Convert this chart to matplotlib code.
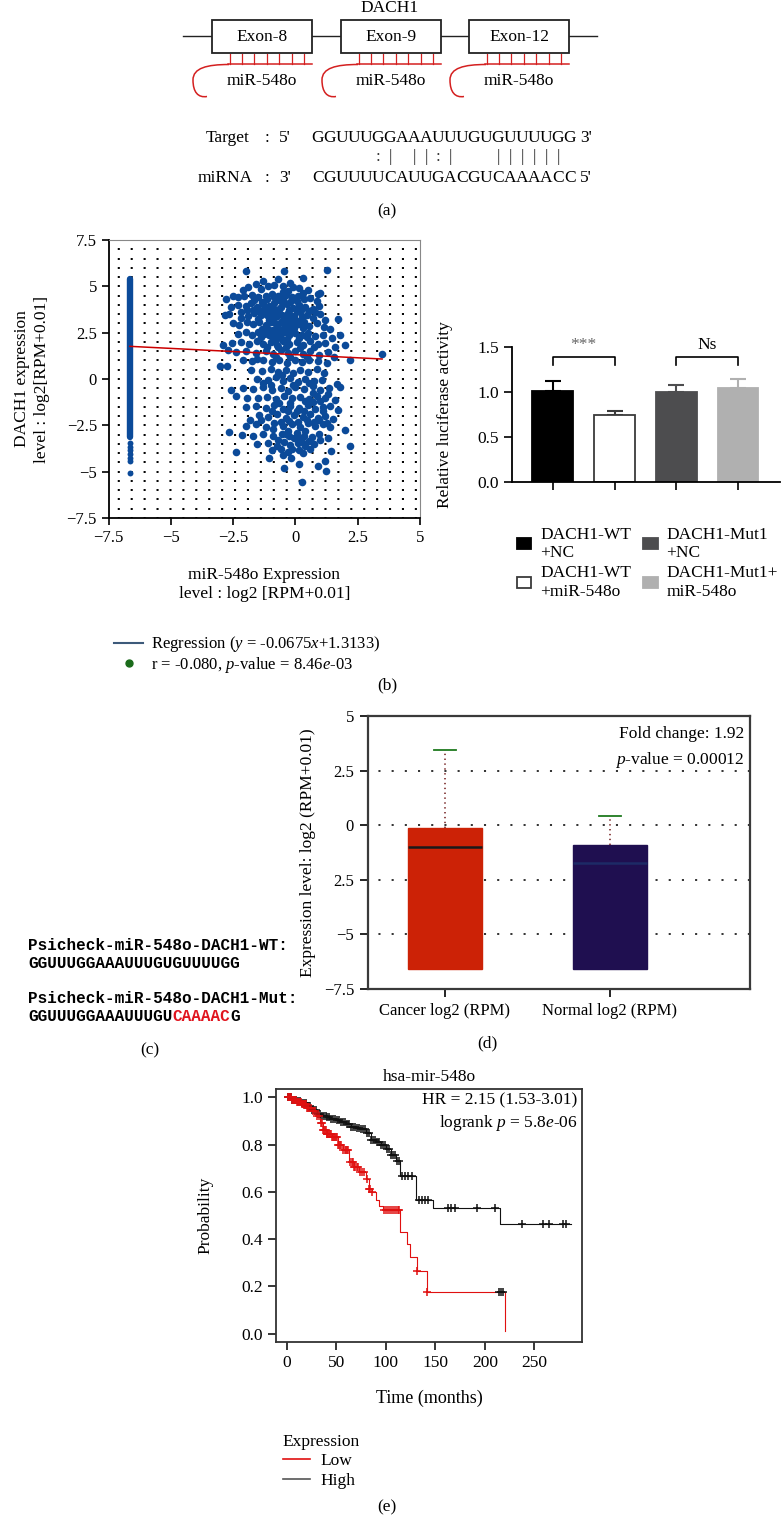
import numpy as np
import matplotlib.pyplot as plt
from matplotlib.patches import Rectangle, PathPatch
from matplotlib.path import Path
from matplotlib.lines import Line2D
from matplotlib.ticker import MultipleLocator

plt.rcParams['font.family'] = ['Liberation Serif', 'DejaVu Serif']
plt.rcParams['mathtext.fontset'] = 'custom'
plt.rcParams['mathtext.rm'] = 'Liberation Serif'
plt.rcParams['mathtext.it'] = 'Liberation Serif:italic'
plt.rcParams['lines.scale_dashes'] = False
plt.rcParams['font.size'] = 11.5
plt.rcParams['axes.unicode_minus'] = True

# ---------------- data ----------------
# (a) binding sites
exon_names = ['Exon-8', 'Exon-9', 'Exon-12']
site_label = 'miR-548o'
target_seq = 'GGUUUGGAAAUUUGUGUUUUGG'
pair_marks = '     :| ||:|   |||||| '
mirna_seq = 'CGUUUUCAUUGACGUCAAAACC'

# (b) correlation scatter
column_x = -6.65
column_top, column_bottom = 5.4, -3.15
column_extra = [-3.45, -3.65, -3.85, -4.05, -4.25, -4.45, -5.05]
cloud_xy = [
    (-2.0, 5.85), (-0.45, 5.85), (1.25, 5.9), (0.3, 5.45), (-0.7, 5.4), (-1.3, 5.3), (-0.2, 5.2),
    (-1.6, 5.1), (-1.1, 5.0), (-0.85, 5.05), (-0.5, 5.0), (-0.1, 4.95), (0.15, 4.9), (-2.1, 4.8),
    (-1.9, 4.95), (0.5, 4.8), (-1.4, 4.85), (0.9, 4.6), (1.0, 4.65),
    (-2.5, 4.5), (-2.3, 4.4), (-2.05, 4.5), (-1.75, 4.55), (-1.5, 4.4), (-1.2, 4.5), (-0.95, 4.6),
    (-0.7, 4.5), (-0.4, 4.55), (-0.15, 4.4), (0.1, 4.5), (0.35, 4.3), (0.6, 4.35), (0.85, 4.2), (-2.8, 4.3),
    (-2.6, 3.9), (-2.3, 4.0), (-2.0, 3.95), (-1.8, 4.1), (-1.55, 3.9), (-1.3, 4.05), (-1.05, 3.95),
    (-0.85, 4.1), (-0.6, 3.9), (-0.35, 4.05), (-0.1, 3.85), (0.15, 4.0), (0.4, 3.9), (0.7, 3.8),
    (0.95, 3.95), (-0.75, 4.25), (-0.5, 4.3), (-1.15, 4.3),
    (-2.85, 3.45), (-2.65, 3.5), (-2.2, 3.6), (-1.9, 3.4), (-1.65, 3.55), (-1.4, 3.45), (-1.2, 3.6),
    (-0.95, 3.5), (-0.75, 3.65), (-0.55, 3.45), (-0.3, 3.55), (-0.05, 3.4), (0.2, 3.6), (0.45, 3.45),
    (0.7, 3.3), (1.0, 3.5), (1.7, 3.25), (-0.85, 3.3), (-0.4, 3.25), (-1.05, 3.2),
    (-2.5, 3.0), (-2.25, 2.9), (-1.95, 3.05), (-1.7, 2.95), (-1.45, 3.1), (-1.2, 2.9), (-1.0, 3.05),
    (-0.8, 2.95), (-0.6, 3.1), (-0.35, 2.9), (-0.15, 3.05), (0.1, 2.95), (0.35, 3.1), (0.55, 2.85),
    (0.85, 3.0), (1.15, 2.8), (-0.7, 2.75), (-0.5, 2.7), (-0.9, 2.65),
    (-2.3, 2.45), (-2.0, 2.55), (-1.75, 2.4), (-1.5, 2.55), (-1.25, 2.45), (-1.05, 2.35), (-0.85, 2.5),
    (-0.65, 2.4), (-0.45, 2.55), (-0.25, 2.35), (0.0, 2.5), (0.25, 2.4), (0.5, 2.5), (0.8, 2.3),
    (1.1, 2.4), (1.45, 2.2), (1.8, 2.35),
    (-2.9, 1.85), (-2.55, 1.95), (-2.2, 2.0), (-1.85, 1.9), (-1.55, 2.05), (-1.3, 1.9), (-1.0, 2.0),
    (-0.75, 1.85), (-0.5, 2.05), (-0.25, 1.9), (0.05, 2.0), (0.3, 1.85), (0.6, 2.05), (0.9, 1.9),
    (1.2, 1.95), (1.6, 1.75), (2.0, 1.85),
    (-2.7, 1.55), (-2.4, 1.45), (-2.0, 1.5), (-1.6, 1.4), (-1.2, 1.5), (-0.9, 1.35), (-0.6, 1.55),
    (-0.3, 1.4), (0.0, 1.5), (0.3, 1.35), (0.6, 1.5), (0.95, 1.3), (1.3, 1.45), (1.55, 1.2), (3.48, 1.36),
    (-2.1, 1.0), (-1.75, 0.95), (-1.3, 1.05), (-0.95, 0.9), (-0.65, 1.0), (-0.35, 0.85), (0.0, 1.05),
    (0.25, 0.9), (0.55, 1.0), (0.9, 0.95), (1.25, 0.85), (2.18, 1.0), (-1.55, 1.1),
    (-3.05, 0.72), (-2.75, 0.68), (-1.8, 0.5), (-1.35, 0.45), (-1.0, 0.55), (-0.7, 0.4), (-0.4, 0.5),
    (-0.1, 0.35), (0.2, 0.5), (0.5, 0.4), (0.85, 0.55), (1.15, 0.3), (-0.55, 0.2),
    (-1.55, 0.0), (-1.1, -0.05), (-0.8, 0.1), (-0.5, -0.1), (-0.2, 0.05), (0.1, -0.15), (0.4, 0.0),
    (0.75, -0.1), (1.05, -0.05), (1.65, -0.27), (-1.3, -0.2),
    (-2.6, -0.6), (-2.1, -0.5), (-1.7, -0.55), (-1.3, -0.45), (-0.95, -0.6), (-0.6, -0.5), (-0.3, -0.65),
    (0.0, -0.45), (0.35, -0.55), (0.7, -0.4), (1.0, -0.6), (1.35, -0.5), (1.8, -0.45),
    (-2.37, -0.9), (-1.95, -1.05), (-1.5, -1.0), (-1.15, -0.95), (-0.8, -1.1), (-0.45, -0.9),
    (-0.15, -1.05), (0.2, -0.95), (0.55, -1.1), (0.85, -0.9), (1.2, -1.0), (1.6, -1.15),
    (-2.0, -1.5), (-1.6, -1.45), (-1.2, -1.55), (-0.85, -1.4), (-0.5, -1.6), (-0.2, -1.45), (0.15, -1.55),
    (0.5, -1.4), (0.8, -1.6), (1.1, -1.5), (1.4, -1.45), (1.7, -1.65),
    (-1.81, -2.2), (-1.45, -1.95), (-1.1, -2.05), (-0.75, -1.9), (-0.4, -2.1), (-0.05, -1.95),
    (0.3, -2.05), (0.6, -1.9), (0.9, -2.1), (1.2, -2.0), (1.5, -2.15),
    (-2.0, -2.55), (-1.6, -2.45), (-1.2, -2.6), (-0.85, -2.4), (-0.5, -2.55), (-0.15, -2.45), (0.2, -2.6),
    (0.5, -2.4), (0.8, -2.55), (1.1, -2.45), (1.4, -2.6), (1.98, -2.73),
    (-2.66, -2.85), (-2.13, -3.0), (-1.7, -3.05), (-1.3, -2.95), (-0.9, -3.1), (-0.55, -2.95),
    (-0.25, -3.1), (0.05, -2.9), (0.35, -3.05), (0.65, -3.15), (0.95, -2.95), (1.3, -3.2),
    (-1.55, -3.5), (-1.1, -3.45), (-0.75, -3.6), (-0.45, -3.4), (-0.2, -3.55), (0.1, -3.45), (0.4, -3.6),
    (0.75, -3.5), (2.18, -3.63), (-0.6, -3.75),
    (-2.37, -3.93), (-1.06, -4.25), (-0.5, -4.1), (-0.16, -4.25), (0.3, -4.0), (1.42, -3.9), (1.18, -4.43),
    (-0.3, -3.95), (-0.46, -4.8), (0.13, -4.56), (0.91, -4.7), (1.22, -4.97), (0.25, -5.57),
    (-1.0, 3.75), (-0.65, 3.8), (-0.25, 3.7), (0.05, 3.65), (-0.85, 4.45), (-0.5, 4.7), (-1.25, 3.75),
    (-0.45, 3.0), (-0.95, 2.3), (-0.2, 2.7), (-0.6, 2.2), (-1.1, 2.7), (0.25, 3.35), (-1.5, 3.25),
    (-0.3, 4.75), (-0.05, 4.3), (0.3, 4.65), (-1.65, 4.25), (-0.75, 3.4), (-0.15, 3.25),
    (-0.3, -2.8), (0.4, -2.8), (-0.7, -3.3), (0.15, -3.25), (0.6, -3.8), (-0.9, -2.7), (0.95, -2.2),
    (1.1, -1.7), (0.4, -1.2), (-0.2, -1.3), (1.3, -0.8), (0.7, -0.75),
    (-1.35, 4.15), (-0.9, 3.85), (-0.55, 4.15), (-0.2, 4.15), (0.05, 4.2), (0.25, 3.8), (0.55, 3.65),
    (-1.45, 3.7), (-1.15, 3.45), (-0.65, 3.55), (-0.2, 3.45), (0.05, 3.15), (0.3, 2.75), (-1.35, 2.7),
    (-0.75, 2.6), (-0.35, 2.65), (-0.05, 2.75), (0.45, 2.25), (-1.4, 2.25), (-0.8, 2.15), (-0.35, 2.15),
    (0.15, 2.2), (-1.15, 1.7), (-0.7, 1.7), (-0.4, 1.75), (0.2, 1.65), (0.75, 1.7), (-0.8, 1.2),
    (-0.2, 1.2), (0.45, 1.2), (-1.7, 3.75), (-1.95, 3.7), (-2.2, 3.3), (0.8, 3.6), (1.2, 3.2), (1.4, 2.7),
    (-0.65, -1.3), (-0.3, -1.75), (0.05, -1.75), (0.35, -1.75), (0.7, -1.25), (-0.95, -1.75),
    (-0.6, -2.3), (-0.25, -2.25), (0.1, -2.3), (0.45, -2.2), (0.75, -2.3), (-0.4, -2.95), (-0.05, -3.2),
    (0.25, -3.4), (0.55, -3.35), (-0.15, -3.75), (0.15, -3.85), (-0.95, -3.85), (1.0, -3.3), (1.0, -1.2),
    (-1.0, -0.3), (-0.1, -0.3), (0.55, -0.2), (1.25, -2.4), (-1.4, -2.2),
]
reg_slope, reg_intercept = -0.0675, 1.3133
reg_x_range = [-6.65, 3.48]

# (b) luciferase assay
bar_labels = ['DACH1-WT\n+NC', 'DACH1-WT\n+miR-548o', 'DACH1-Mut1\n+NC', 'DACH1-Mut1+\nmiR-548o']
bar_means = [1.01, 0.74, 1.00, 1.04]
bar_errs = [0.11, 0.05, 0.08, 0.11]
bar_face = ['#000000', '#ffffff', '#4d4d4f', '#b0b0b0']
bar_edge = ['#000000', '#3a3a3a', '#4d4d4f', '#b0b0b0']
sig_pairs = [(0, 1), (2, 3)]
sig_text = ['***', 'Ns']
sig_y = [1.39, 1.39]

# (c) reporter sequences
wt_name = 'Psicheck-miR-548o-DACH1-WT:'
wt_seq = 'GGUUUGGAAAUUUGUGUUUUGG'
mut_name = 'Psicheck-miR-548o-DACH1-Mut:'
mut_seq_parts = ['GGUUUGGAAAUUUGU', 'CAAAAC', 'G']

# (d) expression boxes
box_labels = ['Cancer log2 (RPM)', 'Normal log2 (RPM)']
box_q1 = [-6.58, -6.58]
box_med = [-1.02, -1.75]
box_q3 = [-0.15, -0.91]
box_whislo = [-6.58, -6.58]
box_whishi = [3.43, 0.43]
box_colors = ['#cc2206', '#1f0f50']
box_median_colors = ['#1a1a1a', '#1d2a66']
box_yticks = [-7.5, -5, -2.5, 0, 2.5, 5]
box_yticklabels = ['\u22127.5', '\u22125', '2.5', '0', '2.5', '5']

# (e) Kaplan-Meier
low_t = [0, 5, 10, 15, 20, 25, 30, 33, 36, 40, 46, 52, 57, 63, 68, 73, 80, 83, 86, 90, 93, 97,
         114, 121, 124, 131, 141, 220]
low_s = [1.0, 0.99, 0.98, 0.97, 0.955, 0.94, 0.92, 0.89, 0.86, 0.845, 0.83, 0.80, 0.775, 0.725,
         0.705, 0.683, 0.655, 0.61, 0.60, 0.565, 0.54, 0.525, 0.43, 0.38, 0.325, 0.265, 0.176, 0.01]
high_t = [0, 5, 10, 15, 20, 25, 30, 35, 40, 45, 50, 55, 60, 65, 70, 75, 80, 85, 90, 95, 100, 105,
          110, 114, 130, 148, 215, 287]
high_s = [1.0, 0.99, 0.985, 0.975, 0.965, 0.945, 0.93, 0.92, 0.915, 0.91, 0.905, 0.895, 0.885,
          0.875, 0.87, 0.865, 0.85, 0.82, 0.81, 0.80, 0.78, 0.755, 0.73, 0.665, 0.565, 0.53, 0.465, 0.465]
low_censor = [1, 2, 3, 4, 5, 6, 7, 8, 9, 10, 11, 12, 13, 14, 15, 16, 17, 18, 19, 20, 21, 22, 24, 26,
              28, 30, 32, 34, 35, 36, 37, 38, 39, 40, 41, 42, 43, 44, 45, 46, 47, 48, 49, 50, 51, 52,
              53, 54, 55, 57, 59, 60, 61, 62, 64, 66, 67, 68, 69, 71, 72, 74, 76, 78, 81, 83, 84, 86,
              98, 100, 102, 104, 106, 108, 110, 112, 113, 131, 141]
low_dark_censor = [214, 216, 218]
high_censor = [1, 2, 3, 4, 5, 7, 9, 11, 13, 15, 17, 19, 21, 23, 25, 27, 29, 31, 33, 35, 37, 39, 41,
               43, 45, 47, 49, 51, 53, 55, 57, 59, 61, 63, 65, 67, 69, 71, 73, 75, 77, 79, 81, 83, 85,
               87, 89, 91, 93, 95, 97, 99, 101, 103, 105, 107, 109, 111, 113, 116, 119, 122, 126, 133,
               136, 139, 142, 163, 166, 170, 192, 210, 237, 259, 265, 279, 282]

# ---------------- figure ----------------
W, H = 781, 1517
fig = plt.figure(figsize=(W / 100, H / 100), dpi=100)


def px_axes(left, top, right, bottom):
    return fig.add_axes([left / W, 1 - bottom / H, (right - left) / W, (bottom - top) / H])


ov = fig.add_axes([0, 0, 1, 1])
ov.set_xlim(0, W)
ov.set_ylim(H, 0)
ov.axis('off')

# ---- (a) diagram ----
red = '#d42020'
ov.text(390, 7.5, 'DACH1', ha='center', va='center', fontsize=12.5)
ov.plot([183, 597], [36, 36], color='#222222', lw=1)
for k, name in enumerate(exon_names):
    x0 = [212, 341, 469][k]
    ov.add_patch(Rectangle((x0, 20), 100, 33, fc='white', ec='#222222', lw=1.3, zorder=3))
    ov.text(x0 + 50, 36.5, name, ha='center', va='center', fontsize=12.5, zorder=4)
    ov.plot([x0 + 16, x0 + 100], [64, 64], color=red, lw=1.1)
    for j in range(7):
        xt = x0 + 17.5 + j * 12.4
        ov.plot([xt, xt], [54, 64], color=red, lw=0.9)
    hook = Path([(x0 + 17, 64.5), (x0 - 5, 64.5), (x0 - 19, 68), (x0 - 19, 80),
                 (x0 - 19, 92), (x0 - 14, 98), (x0 - 5, 96.5)],
                [Path.MOVETO, Path.CURVE4, Path.CURVE4, Path.CURVE4, Path.CURVE4, Path.CURVE4, Path.CURVE4])
    ov.add_patch(PathPatch(hook, fc='none', ec=red, lw=1.1))
    ov.text(x0 + 50, 81, site_label, ha='center', va='center', fontsize=12.5)

ov.text(250, 138, 'Target', ha='right', va='center', fontsize=12.5)
ov.text(267, 138, ':', ha='center', va='center', fontsize=12.5)
ov.text(285, 138, "5'", ha='center', va='center', fontsize=12.5)
ov.text(586, 138, "3'", ha='center', va='center', fontsize=12.5)
ov.text(253, 178, 'miRNA', ha='right', va='center', fontsize=12.5)
ov.text(267, 178, ':', ha='center', va='center', fontsize=12.5)
ov.text(285, 178, "3'", ha='center', va='center', fontsize=12.5)
ov.text(586, 178, "5'", ha='center', va='center', fontsize=12.5)
for i in range(len(target_seq)):
    xc = 312 + 12 * (i + 0.5)
    ov.text(xc, 138, target_seq[i], ha='center', va='center', fontsize=12.5)
    ov.text(xc, 178, mirna_seq[i], ha='center', va='center', fontsize=12.5)
    if pair_marks[i] != ' ':
        ov.text(xc, 157, pair_marks[i], ha='center', va='center', fontsize=12.5, color='#333333')

# ---- (b) scatter ----
blue = '#0b4a99'
ax1 = px_axes(108.7, 240, 420, 518)
ax1.set_xlim(-7.5, 5)
ax1.set_ylim(-7.5, 7.5)
ax1.yaxis.set_minor_locator(MultipleLocator(0.5))
ax1.yaxis.grid(True, which='both', linestyle=(3, (1.5, 7.8)), color='black', lw=1.4)
ax1.set_axisbelow(True)
ax1.tick_params(which='minor', left=False)
cloud = np.array(cloud_xy)
ax1.plot([column_x, column_x], [column_bottom, column_top], color=blue, lw=4.6,
         solid_capstyle='round', zorder=3)
ax1.scatter([column_x] * len(column_extra), column_extra, s=18, color=blue, zorder=3, lw=0)
ax1.scatter(cloud[:, 0], cloud[:, 1], s=30, color=blue, zorder=3, lw=0)
rx = np.array(reg_x_range)
ax1.plot(rx, reg_slope * rx + reg_intercept, color='#cc0000', lw=1.1, zorder=4)
ax1.set_xticks([-7.5, -5, -2.5, 0, 2.5, 5])
ax1.set_xticklabels(['\u22127.5', '\u22125', '\u22122.5', '0', '2.5', '5'])
ax1.set_yticks([-7.5, -5, -2.5, 0, 2.5, 5, 7.5])
ax1.set_yticklabels(['\u22127.5', '\u22125', '\u22122.5', '0', '2.5', '5', '7.5'])
ax1.tick_params(direction='out', length=5, width=1.2, labelsize=12, top=False, right=False)
for s in ['left', 'bottom']:
    ax1.spines[s].set_linewidth(1.3)
for s in ['top', 'right']:
    ax1.spines[s].set_color('#888888')
    ax1.spines[s].set_linewidth(0.8)
ax1.set_ylabel('DACH1 expression\nlevel : log2[RPM+0.01]', fontsize=12.5, linespacing=1.3)
ax1.yaxis.set_label_coords(-0.19, 0.5)
ax1.set_xlabel('miR-548o Expression\nlevel : log2 [RPM+0.01]', fontsize=12.5, linespacing=1.3)
ax1.xaxis.set_label_coords(0.5, -0.175)
ax1.legend([Line2D([], [], color='#3d5a7a', lw=1.5),
            Line2D([], [], marker='o', color='#1a6b1a', ls='none', ms=5)],
           ['Regression ($y$ = -0.0675$x$+1.3133)', 'r = -0.080, $p$-value = 8.46$e$-03'],
           loc='upper left', bbox_to_anchor=(106 / W, 1 - 626 / H), bbox_transform=fig.transFigure,
           frameon=False, fontsize=12, handlelength=1.7, handletextpad=0.5, labelspacing=0.05,
           borderpad=0)

# ---- (b) luciferase bars ----
ax2 = px_axes(512, 347, 780, 482)
pos = np.arange(len(bar_means))
bars = ax2.bar(pos, bar_means, width=0.66, color=bar_face, edgecolor=bar_edge, linewidth=1.3, zorder=2)
for i in pos:
    ax2.errorbar(pos[i], bar_means[i], yerr=[[0], [bar_errs[i]]], color=bar_edge[i], capsize=6,
                 elinewidth=1.5, capthick=1.5, zorder=1)
for (a, b), txt, yb in zip(sig_pairs, sig_text, sig_y):
    ax2.plot([a, a, b, b], [yb - 0.09, yb, yb, yb - 0.09], color='black', lw=1.2)
    ax2.text((a + b) / 2, yb + 0.04, txt, ha='center', va='bottom', fontsize=12.5,
             color='#666666' if txt == '***' else 'black')
ax2.set_xlim(-0.66, 3.68)
ax2.set_ylim(0, 1.5)
ax2.set_yticks([0, 0.5, 1.0, 1.5])
ax2.set_yticklabels(['0.0', '0.5', '1.0', '1.5'])
ax2.set_xticks(pos)
ax2.set_xticklabels([])
ax2.tick_params(direction='out', length=6, width=1.2, labelsize=12.5)
for s in ['top', 'right']:
    ax2.spines[s].set_visible(False)
for s in ['left', 'bottom']:
    ax2.spines[s].set_linewidth(1.3)
ax2.set_ylabel('Relative luciferase activity', fontsize=12.5)
ax2.yaxis.set_label_coords(-0.22, 0.5)
ax2.legend(bars.patches, bar_labels, ncol=2, loc='upper left',
           bbox_to_anchor=(508 / W, 1 - 518 / H), bbox_transform=fig.transFigure, frameon=False,
           fontsize=12.5, handlelength=0.85, handleheight=0.6, handletextpad=0.5,
           columnspacing=0.7, labelspacing=0.25, borderpad=0)

# ---- (c) sequences ----
mono = dict(family='Liberation Mono', fontweight='bold', fontsize=11.5)
ov.text(28, 945, wt_name, va='center', **mono)
ov.text(28, 963, wt_seq, va='center', **mono)
ov.text(28, 998, mut_name, va='center', **mono)
prev = ov.text(28, 1016, mut_seq_parts[0], va='center', **mono)
for part, col in zip(mut_seq_parts[1:], ['#e0141e', 'black']):
    prev = ov.annotate(part, xy=(1, 0), xycoords=prev, va='bottom', ha='left', color=col, **mono)

# ---- (d) box plot ----
ax3 = px_axes(368, 716, 750, 989)
stats = [dict(label=box_labels[i], q1=box_q1[i], med=box_med[i], q3=box_q3[i],
              whislo=box_whislo[i], whishi=box_whishi[i], fliers=[]) for i in range(2)]
bp = ax3.bxp(stats, positions=[1, 2], widths=0.45, patch_artist=True, showfliers=False,
             capwidths=0.13,
             whiskerprops=dict(linestyle=(0, (1, 2.5)), color='#7a2a2a', lw=1.2),
             capprops=dict(color='#1f7a1f', lw=1.3),
             medianprops=dict(lw=1.8))
for i in range(2):
    bp['boxes'][i].set_facecolor(box_colors[i])
    bp['boxes'][i].set_edgecolor(box_colors[i])
    bp['medians'][i].set_color(box_median_colors[i])
    bp['caps'][2 * i].set_visible(False)
ax3.set_xlim(0.533, 2.85)
ax3.set_ylim(-7.5, 5)
ax3.set_yticks(box_yticks)
ax3.set_yticklabels(box_yticklabels)
ax3.yaxis.grid(True, linestyle=(2, (1.5, 8)), color='#222222', lw=1.3)
ax3.set_axisbelow(True)
ax3.tick_params(direction='out', length=6, width=1.2, labelsize=12, pad=4)
for s in ax3.spines.values():
    s.set_linewidth(1.6)
    s.set_color('#3a3a3a')
ax3.text(0.985, 0.965, 'Fold change: 1.92', transform=ax3.transAxes, ha='right', va='top', fontsize=12.5)
ax3.text(0.985, 0.875, '$p$-value = 0.00012', transform=ax3.transAxes, ha='right', va='top', fontsize=12.5)
ax3.set_ylabel('Expression level: log2 (RPM+0.01)', fontsize=12.5)
ax3.yaxis.set_label_coords(-0.135, 0.5)

# ---- (e) Kaplan-Meier ----
ax4 = px_axes(276, 1089, 582, 1342)


def surv_at(times, surv, t):
    idx = np.searchsorted(times, t, side='right') - 1
    return np.array(surv)[idx]


ax4.plot(high_t, high_s, drawstyle='steps-post', color='#111111', lw=0.8)
ax4.plot(low_t, low_s, drawstyle='steps-post', color='#e01010', lw=0.8)
ax4.plot(high_censor, surv_at(high_t, high_s, high_censor), ls='none', marker='+', ms=6,
         mew=1.1, color='#111111')
ax4.plot(low_censor, surv_at(low_t, low_s, low_censor), ls='none', marker='+', ms=6,
         mew=1.1, color='#e01010')
ax4.plot(low_dark_censor, surv_at(low_t, low_s, low_dark_censor), ls='none', marker='+', ms=6,
         mew=1.1, color='#111111')
ax4.set_xlim(-11, 298)
ax4.set_ylim(-0.035, 1.035)
ax4.set_xticks([0, 50, 100, 150, 200, 250])
ax4.set_yticks([0, 0.2, 0.4, 0.6, 0.8, 1.0])
ax4.set_yticklabels(['0.0', '0.2', '0.4', '0.6', '0.8', '1.0'])
ax4.tick_params(direction='out', length=6, width=1.1, labelsize=12.5)
for s in ax4.spines.values():
    s.set_linewidth(1.3)
    s.set_color('#333333')
ax4.set_title('hsa-mir-548o', fontsize=12.5, pad=6)
ax4.text(0.985, 0.985, 'HR = 2.15 (1.53-3.01)', transform=ax4.transAxes, ha='right', va='top', fontsize=12.5)
ax4.text(0.985, 0.905, 'logrank $p$ = 5.8$e$-06', transform=ax4.transAxes, ha='right', va='top', fontsize=12.5)
ax4.set_ylabel('Probability', fontsize=12.5)
ax4.yaxis.set_label_coords(-0.205, 0.5)
ax4.set_xlabel('Time (months)', fontsize=13)
ax4.xaxis.set_label_coords(0.5, -0.19)
leg = ax4.legend([Line2D([], [], color='#e01010', lw=1.2), Line2D([], [], color='#555555', lw=1.2)],
                 ['Low', 'High'], title='Expression', loc='upper left',
                 bbox_to_anchor=(274 / W, 1 - 1425 / H), bbox_transform=fig.transFigure,
                 frameon=False, fontsize=12.5, title_fontsize=12.5, handlelength=1.6,
                 handletextpad=0.55, labelspacing=0.2, borderpad=0, alignment='left')

# ---- panel letters ----
for txt, x, y in [('(a)', 387, 211), ('(b)', 387, 685), ('(c)', 150, 1050),
                  ('(d)', 487, 1043), ('(e)', 387, 1507)]:
    ov.text(x, y, txt, ha='center', va='center', fontsize=12.5)

fig.savefig('out.png', dpi=100)
